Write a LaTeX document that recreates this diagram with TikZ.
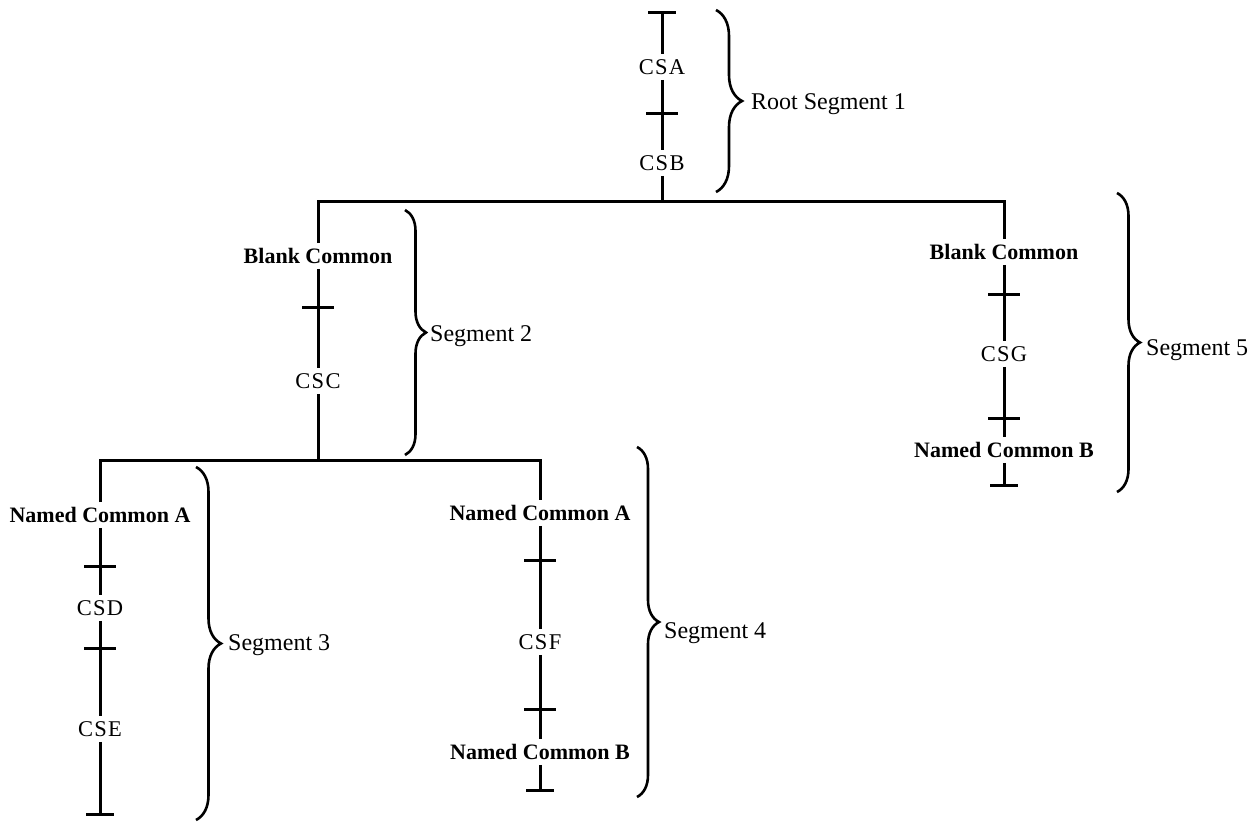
\documentclass[tikz,border=0pt]{standalone}
\usepackage{fontspec}
\setmainfont{Liberation Serif}
\newfontfamily\csfont[LetterSpace=6]{Liberation Serif}
\usepackage{tikz}
\usetikzlibrary{decorations.pathreplacing}
\tikzstyle{seg} = [line width=3pt]
\tikzstyle{cs} = [font=\fontsize{22.5}{26}\selectfont\csfont, inner sep=5pt]
\tikzstyle{common} = [font=\fontsize{22}{26}\selectfont\bfseries, inner sep=5pt]
\tikzstyle{lbl} = [font=\fontsize{24}{28}\selectfont, anchor=west, inner sep=0pt]
\tikzstyle{brc} = [line width=2.6pt, decorate, decoration={brace, aspect=0.5}]

\begin{document}
\begin{tikzpicture}[x=1pt, y=-1pt]
\useasboundingbox (0,0) rectangle (1252,822);

% Root segment
\coordinate (topA) at (662,12);
\node[cs] (csa) at (662,67) {CSA};
\coordinate (tickA) at (662,113);
\node[cs] (csb) at (662,163) {CSB};
\coordinate (j1) at (662,201);
\draw[seg] (topA) -- (csa) -- (tickA) -- (csb) -- (j1);

% Segment 2
\node[common] (bc2) at (318,256) {Blank Common};
\coordinate (tickC) at (318,307);
\node[cs] (csc) at (318,381) {CSC};
\coordinate (j2) at (318,460);
\draw[seg] (bc2) -- (tickC) -- (csc) -- (j2);

% Segment 5
\node[common] (bc5) at (1004,252) {Blank Common};
\coordinate (tickG1) at (1004,294);
\node[cs] (csg) at (1004,354) {CSG};
\coordinate (tickG2) at (1004,418);
\node[common] (ncb5) at (1004,450) {Named Common B};
\coordinate (endG) at (1004,485);
\draw[seg] (bc5) -- (tickG1) -- (csg) -- (tickG2) -- (ncb5) -- (endG);

% Segment 3
\node[common] (nca3) at (100,515) {Named Common A};
\coordinate (tickD1) at (100,566);
\node[cs] (csd) at (100,608) {CSD};
\coordinate (tickD2) at (100,648);
\node[cs] (cse) at (100,729) {CSE};
\coordinate (endE) at (100,814);
\draw[seg] (nca3) -- (tickD1) -- (csd) -- (tickD2) -- (cse) -- (endE);

% Segment 4
\node[common] (nca4) at (540,513) {Named Common A};
\coordinate (tickF1) at (540,560);
\node[cs] (csf) at (540,642) {CSF};
\coordinate (tickF2) at (540,709);
\node[common] (ncb4) at (540,752) {Named Common B};
\coordinate (endF) at (540,790);
\draw[seg] (nca4) -- (tickF1) -- (csf) -- (tickF2) -- (ncb4) -- (endF);

% Tree links
\draw[seg] (bc2) |- (j1) -| (bc5);
\draw[seg] (nca3) |- (j2) -| (nca4);

% Ticks and end bars
\foreach \t in {tickA,tickC,tickG1,tickG2,tickD1,tickD2,tickF1,tickF2}
  \draw[seg] ([xshift=-16pt]\t) -- ([xshift=16pt]\t);
\foreach \t in {topA,endG,endE,endF}
  \draw[seg] ([xshift=-14pt]\t) -- ([xshift=14pt]\t);

% Braces
\draw[brc, decoration={amplitude=26pt}] (716,10) -- (716,192);
\node[lbl] (seg1) at (751,104) {Root Segment 1};
\draw[brc, decoration={amplitude=21pt}] (405,210) -- (405,455);
\node[lbl] (seg2) at (430,336) {Segment 2};
\draw[brc, decoration={amplitude=25pt}] (196,467) -- (196,820);
\node[lbl] (seg3) at (228,645) {Segment 3};
\draw[brc, decoration={amplitude=22pt}] (637,447) -- (637,797);
\node[lbl] (seg4) at (664,633) {Segment 4};
\draw[brc, decoration={amplitude=23pt}] (1117,193) -- (1117,492);
\node[lbl] (seg5) at (1146,350) {Segment 5};
\end{tikzpicture}
\end{document}
